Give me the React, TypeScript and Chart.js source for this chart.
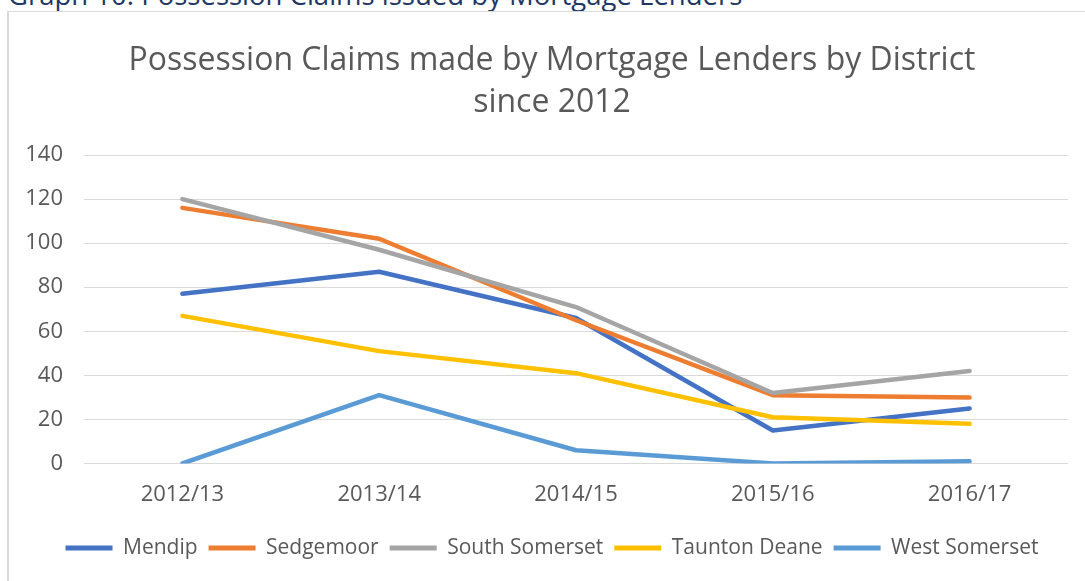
import React, { useEffect, useRef } from "react";
import { Chart, registerables } from "chart.js";

Chart.register(...registerables);

const categories = ["2012/13", "2013/14", "2014/15", "2015/16", "2016/17"];
const mendip = [77, 87, 66, 15, 25];
const sedgemoor = [116, 102, 65, 31, 30];
const southSomerset = [120, 97, 71, 32, 42];
const tauntonDeane = [67, 51, 41, 21, 18];
const westSomerset = [0, 31, 6, 0, 1];
const seriesNames = ["Mendip", "Sedgemoor", "South Somerset", "Taunton Deane", "West Somerset"];
const seriesColors = ["#4472C4", "#ED7D31", "#A5A5A5", "#FFC000", "#5B9BD5"];
const yTicks = { min: 0, max: 140, step: 20 };
const titleLines = ["Possession Claims made by Mortgage Lenders by District", "since 2012"];
const headingText = "Graph 10: Possession Claims issued by Mortgage Lenders";

export default function App() {
  const canvasRef = useRef<HTMLCanvasElement | null>(null);

  useEffect(() => {
    const canvas = canvasRef.current;
    if (!canvas) return;
    const values = [mendip, sedgemoor, southSomerset, tauntonDeane, westSomerset];
    const chart = new Chart(canvas, {
      type: "line",
      data: {
        labels: categories,
        datasets: values.map((v, i) => ({
          label: seriesNames[i],
          data: v,
          borderColor: seriesColors[i],
          backgroundColor: seriesColors[i],
          borderWidth: 4.5,
          borderCapStyle: "round",
          borderJoinStyle: "round",
          pointRadius: 0,
          pointHoverRadius: 0,
          tension: 0,
          fill: false,
          order: values.length - 1 - i,
        })),
      },
      options: {
        responsive: false,
        animation: false,
        font: { family: "'Open Sans'" },
        layout: { padding: { left: 26, right: 17, top: 0, bottom: 12.5 } },
        plugins: {
          tooltip: { enabled: false },
          title: {
            display: true,
            text: titleLines,
            color: "#595959",
            font: { family: "'Open Sans'", size: 32, weight: "normal", lineHeight: 1.3 },
            padding: { top: 28.2, bottom: 31.6 },
          },
          legend: {
            position: "bottom",
            labels: {
              color: "#595959",
              font: { family: "'Open Sans'", size: 21 },
              boxWidth: 47,
              boxHeight: 5,
              padding: 11,
              sort: (a: any, b: any) => a.datasetIndex - b.datasetIndex,
              generateLabels: (c: any) =>
                Chart.defaults.plugins.legend.labels
                  .generateLabels(c)
                  .map((l: any) => ({ ...l, lineWidth: 0 })),
            },
          },
        },
        scales: {
          x: {
            offset: true,
            grid: { display: false, drawTicks: false },
            border: { display: false },
            ticks: {
              color: "#595959",
              font: { family: "'Open Sans'", size: 22, lineHeight: 2.864 },
              padding: 0,
              maxRotation: 0,
            },
          },
          y: {
            min: yTicks.min,
            max: yTicks.max,
            grid: { color: "#d9d9d9", lineWidth: 1, drawTicks: false },
            border: { display: false },
            afterFit: (scale: any) => {
              scale.width = 48;
              scale._computeLabelArea = () => undefined;
            },
            ticks: {
              stepSize: yTicks.step,
              color: "#595959",
              font: { family: "'Open Sans'", size: 22 },
              padding: 21,
            },
          },
        },
      },
    } as any);
    return () => chart.destroy();
  }, []);

  return (
    <div style={{ position: "fixed", left: 0, top: 0, width: 1085, height: 581, overflow: "hidden", background: "#fff" }}>
      <div
        style={{
          position: "absolute",
          left: 8,
          top: -19,
          fontFamily: "'Open Sans'",
          fontSize: 27.5,
          lineHeight: "27px",
          color: "#1f3763",
          whiteSpace: "nowrap",
        }}
      >
        {headingText}
      </div>
      <div
        style={{
          position: "absolute",
          left: 7,
          top: 11,
          width: 1200,
          height: 700,
          borderTop: "1px solid #d9d9d9",
          borderLeft: "2px solid #d9d9d9",
        }}
      />
      <canvas
        ref={canvasRef}
        width={1075}
        height={569}
        style={{ position: "absolute", left: 10, top: 12, width: 1075, height: 569 }}
      />
    </div>
  );
}
